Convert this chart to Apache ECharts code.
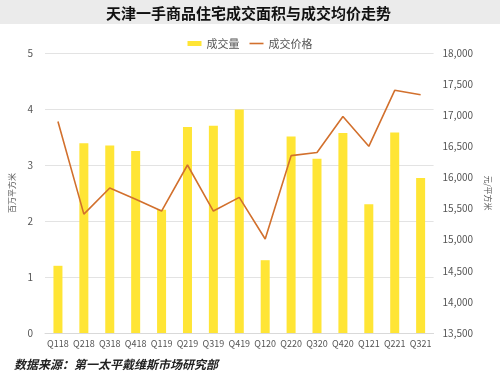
<!DOCTYPE html>
<html>
<head>
<meta charset="utf-8">
<script src="https://cdn.jsdelivr.net/npm/echarts@6/dist/echarts.min.js"></script>
<style>
  html, body { margin: 0; padding: 0; background: #fff; }
  #main { width: 500px; height: 378px; }
</style>
</head>
<body>
<div id="main"></div>
<script>
// 季度
var quarters = ["Q118", "Q218", "Q318", "Q418", "Q119", "Q219", "Q319", "Q419",
  "Q120", "Q220", "Q320", "Q420", "Q121", "Q221", "Q321"];
// 成交量 (百万平方米)
var volume = [1.20, 3.39, 3.35, 3.25, 2.20, 3.68, 3.70, 3.99,
  1.30, 3.51, 3.11, 3.57, 2.30, 3.58, 2.77];
// 成交价格 (元/平方米)
var price = [16900, 15410, 15830, 15650, 15460, 16200, 15460, 15680,
  15010, 16350, 16400, 16980, 16500, 17400, 17330];

var font = "'Noto Sans CJK SC', sans-serif";
var myChart = echarts.init(document.getElementById("main"));
var option = {
  backgroundColor: "#fff",
  textStyle: { fontFamily: font },
  graphic: [
    {
      type: "rect",
      left: 0,
      top: 0,
      shape: { width: 500, height: 24 },
      style: { fill: "#ebebeb" },
      z: -1
    },
    {
      type: "text",
      left: 14,
      top: 358,
      style: {
        text: "数据来源：第一太平戴维斯市场研究部",
        fill: "#222",
        font: "italic bold 12px 'Noto Sans CJK SC', sans-serif"
      }
    }
  ],
  title: {
    text: "天津一手商品住宅成交面积与成交均价走势",
    left: 101,
    top: 1,
    textStyle: {
      color: "#111",
      fontSize: 15,
      fontWeight: "bold",
      fontFamily: font
    }
  },
  legend: {
    data: [
      { name: "成交量", icon: "rect" },
      { name: "成交价格", icon: "path://M0,0 L14,0 L14,1.6 L0,1.6 Z" }
    ],
    top: 33,
    left: "center",
    itemWidth: 14,
    itemHeight: 5,
    itemGap: 10,
    textStyle: { color: "#555", fontSize: 11, fontFamily: font }
  },
  grid: { left: 35, right: 57, top: 53, bottom: 45 },
  xAxis: {
    type: "category",
    data: quarters,
    axisTick: { show: false },
    axisLine: { lineStyle: { color: "#d9d9d9" } },
    axisLabel: { color: "#555", fontSize: 9, margin: 6, interval: 0 }
  },
  yAxis: [
    {
      type: "value",
      min: 0,
      max: 5,
      interval: 1,
      name: "百万平方米",
      nameLocation: "middle",
      nameGap: 29,
      nameTextStyle: { color: "#555", fontSize: 8 },
      axisLabel: { color: "#555", fontSize: 10, margin: 12 },
      axisLine: { show: false },
      axisTick: { show: false },
      splitLine: { lineStyle: { color: "#e3e3e3" } }
    },
    {
      type: "value",
      min: 13500,
      max: 18000,
      interval: 500,
      name: "元/平方米",
      nameLocation: "middle",
      nameGap: 50,
      nameRotate: -90,
      nameTextStyle: { color: "#555", fontSize: 8 },
      axisLabel: {
        color: "#555",
        fontSize: 10,
        margin: 9,
        formatter: function (v) { return v.toLocaleString("en-US"); }
      },
      axisLine: { show: false },
      axisTick: { show: false },
      splitLine: { show: false }
    }
  ],
  series: [
    {
      name: "成交量",
      type: "bar",
      data: volume,
      barWidth: 9,
      itemStyle: { color: "#ffe535" },
      yAxisIndex: 0
    },
    {
      name: "成交价格",
      type: "line",
      data: price,
      yAxisIndex: 1,
      symbol: "none",
      lineStyle: { color: "#d2702d", width: 1.6 },
      itemStyle: { color: "#d2702d" }
    }
  ]
};
myChart.setOption(option);
</script>
</body>
</html>
